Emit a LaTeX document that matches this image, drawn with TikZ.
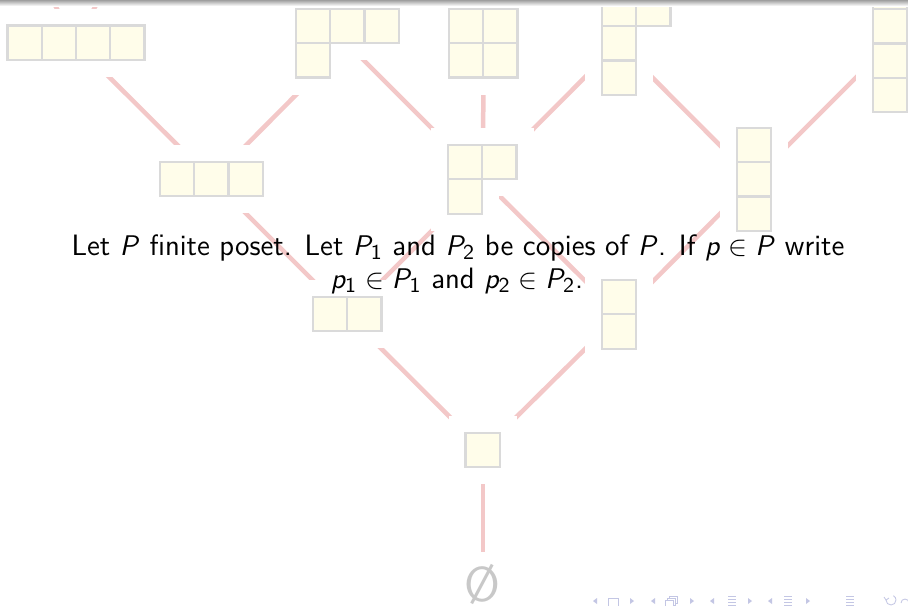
\documentclass[tikz,border=0pt]{standalone}
\DeclareMathAlphabet{\mathsfit}{OT1}{cmss}{m}{sl}
\DeclareMathAlphabet{\mathsfup}{OT1}{cmss}{m}{n}
\newcommand{\Pit}{\mathsfit{P}}
\newcommand{\pit}{\mathsfit{p}}
\newcommand{\one}{\mathsfup{1}}
\newcommand{\two}{\mathsfup{2}}
\definecolor{edgec}{RGB}{243,200,200}
\definecolor{cellfill}{RGB}{255,253,234}
\definecolor{celldraw}{RGB}{218,218,218}
\definecolor{emptyc}{RGB}{200,200,200}
\definecolor{navc}{RGB}{195,198,228}
\newcommand{\youngd}[3]{%
  \foreach \r [count=\i from 0] in {#3} {
    \foreach \c in {1,...,\r} {
      \fill[white] ({#1+(\c-1)*34.25-17},{#2+\i*34.25-17}) rectangle ++(68.25,68.25);
    }
  }
  \foreach \r [count=\i from 0] in {#3} {
    \foreach \c in {1,...,\r} {
      \draw[cell] ({#1+(\c-1)*34.25},{#2+\i*34.25}) rectangle ++(34.25,34.25);
    }
  }
}
\begin{document}
\begin{tikzpicture}[x=0.4225pt,y=-0.4225pt,
  edge/.style={draw=edgec,line width=1.9pt},
  cell/.style={fill=cellfill,draw=celldraw,line width=0.85pt},
  txt/.style={anchor=base,inner sep=1pt,font=\sffamily\fontsize{12.45}{15}\selectfont},
  nav/.style={draw=navc,line width=0.35pt},
  navf/.style={fill=navc}]
\useasboundingbox (0,0) rectangle (908,605);
\clip (0,0) rectangle (908,605);
\fill[white] (0,0) rectangle (908,605);
% anchors of the lattice
\coordinate (n5) at (3.5,-91.5);
\coordinate (n41) at (147.5,-91.5);
\coordinate (n4) at (75.5,43.5);
\coordinate (n31) at (347,43.5);
\coordinate (n22) at (483.5,43.5);
\coordinate (n211) at (618.5,43.5);
\coordinate (n1111) at (890,43.5);
\coordinate (n3) at (212,179.5);
\coordinate (n21) at (483,179.5);
\coordinate (n111) at (754,179.5);
\coordinate (n2) at (347.5,315);
\coordinate (n11) at (619.5,315);
\coordinate (n1) at (483,450);
\coordinate (n0) at (483,585);
% edges
\draw[edge] (n5) -- (n4);
\draw[edge] (n41) -- (n4);
\draw[edge] (n4) -- (n3);
\draw[edge] (n31) -- (n3);
\draw[edge] (n31) -- (n21);
\draw[edge] (n22) -- (n21);
\draw[edge] (n211) -- (n21);
\draw[edge] (n211) -- (n111);
\draw[edge] (n1111) -- (n111);
\draw[edge] (n3) -- (n2);
\draw[edge] (n21) -- (n2);
\draw[edge] (n21) -- (n11);
\draw[edge] (n111) -- (n11);
\draw[edge] (n2) -- (n1);
\draw[edge] (n11) -- (n1);
\draw[edge] (n1) -- (n0);
% Young diagrams
\youngd{7.5}{25.5}{4}
\youngd{296}{9}{3,1}
\youngd{449}{9}{2,2}
\youngd{602}{-8}{2,1,1}
\youngd{873}{-25}{1,1,1,1}
\youngd{160}{162}{3}
\youngd{448}{145}{2,1}
\youngd{737}{128}{1,1,1}
\youngd{313}{297}{2}
\youngd{602}{280}{1,1}
\youngd{465.5}{433}{1}
% empty set
\fill[white] (460,552) rectangle (506,605);
\node[inner sep=0pt,anchor=base,text=emptyc,font=\sffamily\fontsize{20.74}{25}\selectfont] (e) at (482.5,601) {\O};
% top shadow
\shade[top color=gray!75,bottom color=white] (0,0) rectangle (908,6);
% text
\node[txt] (t1) at (458,255) {Let $\Pit$ finite poset. Let $\Pit_{\one}$ and $\Pit_{\two}$ be copies of $\Pit$. If $\pit\in\Pit$ write};
\node[txt] (t2) at (457,288) {$\pit_{\one}\in\Pit_{\one}$ and $\pit_{\two}\in\Pit_{\two}$.};
% navigation symbols
\fill[navf] (597,598) -- (593,601) -- (597,604) -- cycle;
\draw[nav] (608,598) rectangle (618,607);
\fill[navf] (630,598) -- (634,601) -- (630,604) -- cycle;
\fill[navf] (655,598) -- (651,601) -- (655,604) -- cycle;
\draw[nav] (665,600) rectangle (673,607);
\draw[nav] (667,600) -- (667,598) -- (675,598) -- (675,605) -- (673,605);
\draw[nav] (669,598) -- (669,596) -- (677,596) -- (677,603) -- (675,603);
\fill[navf] (690,598) -- (694,601) -- (690,604) -- cycle;
\fill[navf] (714,598) -- (710,601) -- (714,604) -- cycle;
\foreach \yy in {596,599,602,605} \draw[nav] (728,\yy) -- (736,\yy);
\fill[navf] (748,598) -- (752,601) -- (748,604) -- cycle;
\fill[navf] (772,598) -- (768,601) -- (772,604) -- cycle;
\foreach \yy in {596,599,602,605} \draw[nav] (784,\yy) -- (792,\yy);
\fill[navf] (806,598) -- (810,601) -- (806,604) -- cycle;
\foreach \yy in {596,599,602,605} \draw[nav] (846,\yy) -- (854,\yy);
\draw[nav] (886,600) arc[start angle=180,end angle=-60,radius=5];
\draw[nav] (884,597) -- (886,600) -- (889,598);
\draw[nav] (909,603) arc[start angle=0,end angle=-180,radius=4];
\end{tikzpicture}
\end{document}
